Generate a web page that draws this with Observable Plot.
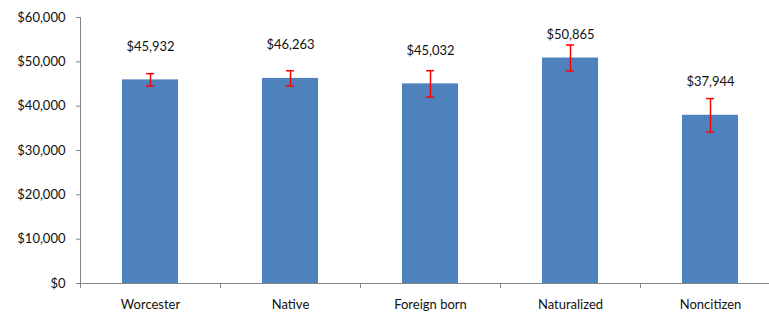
<!DOCTYPE html>
<html><head><meta charset="utf-8">
<script src="https://cdn.jsdelivr.net/npm/d3@7"></script>
<script src="https://cdn.jsdelivr.net/npm/@observablehq/plot@0.6"></script>
<style>body{margin:0;background:#fff}</style>
</head><body><div id="chart"></div>
<script>
const categories = ["Worcester", "Native", "Foreign born", "Naturalized", "Noncitizen"];
const medianIncome = [45932, 46263, 45032, 50865, 37944];
const marginOfError = [1400, 1730, 2970, 2930, 3770];
const yTicks = [0, 10000, 20000, 30000, 40000, 50000, 60000];

const data = categories.map((c, i) => ({category: c, value: medianIncome[i], moe: marginOfError[i]}));
const fmt = d3.format("$,");
const axisGray = "#868686";
const textColor = "#111";

const chart = Plot.plot({
  width: 769,
  height: 312,
  marginLeft: 80,
  marginRight: 0,
  marginTop: 17,
  marginBottom: 29,
  style: {fontFamily: "Lato, sans-serif", fontSize: "13px", color: textColor, background: "#fff", overflow: "visible"},
  x: {domain: categories, range: [80, 780], paddingInner: 0.6, paddingOuter: 0.3, label: null, axis: null},
  y: {domain: [0, 60000], label: null, axis: null},
  marks: [
    Plot.axisY({ticks: yTicks, tickFormat: fmt, tickSize: 4, tickPadding: 11, stroke: axisGray, fill: textColor, fontSize: 13, label: null}),
    Plot.frame({anchor: "left", stroke: axisGray}),
    Plot.barY(data, {x: "category", y: "value", fill: "#4F81BD"}),
    Plot.ruleY([0], {stroke: axisGray}),
    Plot.axisX({tickSize: 5, tickFormat: () => "", dx: -70, stroke: axisGray, label: null}),
    Plot.axisX({tickSize: 0, tickPadding: 16, fill: textColor, fontSize: 13, label: null}),
    Plot.ruleX(data, {x: "category", y1: d => d.value - d.moe, y2: d => d.value + d.moe, stroke: "#FF0000", strokeWidth: 1.5}),
    Plot.tickY(data, {x: "category", y: d => d.value - d.moe, stroke: "#FF0000", strokeWidth: 1.5, insetLeft: 24, insetRight: 24}),
    Plot.tickY(data, {x: "category", y: d => d.value + d.moe, stroke: "#FF0000", strokeWidth: 1.5, insetLeft: 24, insetRight: 24}),
    Plot.text(data, {x: "category", y: d => Math.min(d.value + 7500, 56000), text: d => fmt(d.value), fill: textColor, fontSize: 13})
  ]
});
document.getElementById("chart").appendChild(chart);
</script>
</body></html>
